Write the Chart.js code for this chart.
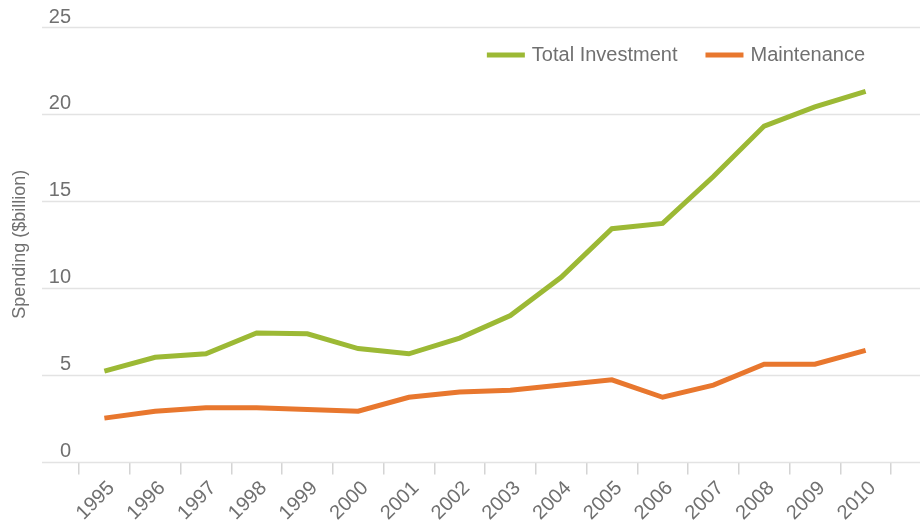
<!DOCTYPE html>
<html lang="en">
  <head>
    <meta charset="UTF-8" />
    <title>Spending</title>
    <script src="https://cdn.jsdelivr.net/npm/chart.js"></script>
    <style>
      html, body { margin: 0; padding: 0; background: #fff; }
      #wrap { width: 920px; height: 520px; }
    </style>
  </head>
  <body>
    <div id="wrap"><canvas id="myChart"></canvas></div>

    <script>
      var years = ["1995", "1996", "1997", "1998", "1999", "2000", "2001", "2002",
                   "2003", "2004", "2005", "2006", "2007", "2008", "2009", "2010"];
      var totalInvestment = [5.2, 6.0, 6.2, 7.4, 7.35, 6.5, 6.2, 7.1,
                             8.4, 10.6, 13.4, 13.7, 16.4, 19.3, 20.4, 21.3];
      var maintenance = [2.5, 2.9, 3.1, 3.1, 3.0, 2.9, 3.7, 4.0,
                         4.1, 4.4, 4.7, 3.7, 4.4, 5.6, 5.6, 6.4];
      var yTicks = [0, 5, 10, 15, 20, 25];

      var textColor = "#707070";
      var font = "'Liberation Sans', Arial, sans-serif";

      // horizontal grid lines run past the plot area on both sides
      var wideGrid = {
        id: "wideGrid",
        beforeDatasetsDraw: function (chart) {
          var ctx = chart.ctx;
          var y = chart.scales.y;
          ctx.save();
          ctx.strokeStyle = "#e3e3e3";
          ctx.lineWidth = 1.5;
          yTicks.forEach(function (v) {
            var py = Math.round(y.getPixelForValue(v)) + 0.5;
            ctx.beginPath();
            ctx.moveTo(42, py);
            ctx.lineTo(chart.width, py);
            ctx.stroke();
          });
          ctx.restore();
        },
      };

      // legend drawn inside the plot, top right
      var insideLegend = {
        id: "insideLegend",
        afterDraw: function (chart) {
          var ctx = chart.ctx;
          var sets = chart.data.datasets;
          var right = chart.chartArea.right - 26;
          var cy = chart.chartArea.top + 28;
          ctx.save();
          ctx.font = "20px " + font;
          ctx.textBaseline = "middle";
          var x = right;
          for (var i = sets.length - 1; i >= 0; i--) {
            var w = ctx.measureText(sets[i].label).width;
            x -= w;
            ctx.fillStyle = textColor;
            ctx.fillText(sets[i].label, x, cy);
            x -= 7 + 38;
            ctx.fillStyle = sets[i].borderColor;
            ctx.fillRect(x, cy - 2.5, 38, 5);
            x -= 28;
          }
          ctx.restore();
        },
      };

      var ctx = document.getElementById("myChart").getContext("2d");
      window.myChart = new Chart(ctx, {
        type: "line",
        data: {
          labels: years,
          datasets: [
            {
              label: "Total Investment",
              data: totalInvestment,
              borderColor: "#9cb935",
              backgroundColor: "#9cb935",
              borderWidth: 5,
              pointRadius: 0,
              tension: 0,
            },
            {
              label: "Maintenance",
              data: maintenance,
              borderColor: "#e8772e",
              backgroundColor: "#e8772e",
              borderWidth: 5,
              pointRadius: 0,
              tension: 0,
            },
          ],
        },
        plugins: [wideGrid, insideLegend],
        options: {
          responsive: true,
          maintainAspectRatio: false,
          animation: false,
          layout: {
            padding: { top: 27, right: 29, bottom: -7, left: 0 },
          },
          scales: {
            x: {
              offset: true,
              grid: {
                offset: true,
                drawOnChartArea: false,
                drawTicks: true,
                color: "#d4d4d4",
                lineWidth: 1.5,
                tickLength: 13,
              },
              border: { display: false },
              ticks: {
                color: textColor,
                font: { family: font, size: 20 },
                minRotation: 45,
                maxRotation: 45,
                padding: 2,
                labelOffset: 7,
              },
            },
            y: {
              min: 0,
              max: 25,
              afterFit: function (scale) {
                scale.width = 79;
              },
              afterBuildTicks: function (scale) {
                scale.ticks = yTicks.map(function (v) { return { value: v }; });
              },
              grid: { display: false, drawTicks: false },
              border: { display: false },
              ticks: {
                color: textColor,
                font: { family: font, size: 20 },
                padding: 8,
                labelOffset: -10,
              },
              title: {
                display: true,
                text: "Spending ($billion)",
                color: textColor,
                font: { family: font, size: 18 },
                padding: { top: 9, bottom: 0 },
              },
            },
          },
          plugins: {
            legend: { display: false },
            tooltip: { enabled: false },
          },
        },
      });
    </script>
  </body>
</html>
